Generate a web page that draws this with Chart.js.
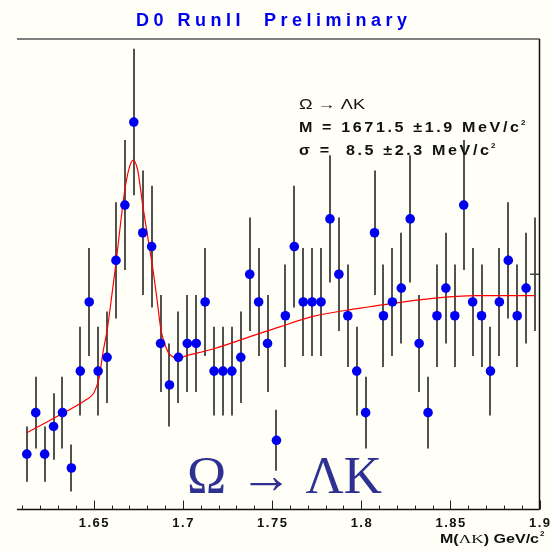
<!DOCTYPE html>
<html><head><meta charset="utf-8">
<script src="https://cdn.jsdelivr.net/npm/chart.js@4/dist/chart.umd.min.js"></script>
<style>html,body{margin:0;padding:0;background:#fffef7;}#wrap{width:551px;height:551px;}</style>
</head><body><div id="wrap"><canvas id="c" width="551" height="551"></canvas></div>
<script>
// ---- data ----
const binCenters = [1.6125,1.6175,1.6225,1.6275,1.6325,1.6375,1.6425,1.6475,1.6525,1.6575,
  1.6625,1.6675,1.6725,1.6775,1.6825,1.6875,1.6925,1.6975,1.7025,1.7075,
  1.7125,1.7175,1.7225,1.7275,1.7325,1.7375,1.7425,1.7475,1.7525,1.7575,
  1.7625,1.7675,1.7725,1.7775,1.7825,1.7875,1.7925,1.7975,1.8025,1.8075,
  1.8125,1.8175,1.8225,1.8275,1.8325,1.8375,1.8425,1.8475,1.8525,1.8575,
  1.8625,1.8675,1.8725,1.8775,1.8825,1.8875,1.8925,1.8975];
const counts = [4,7,4,6,7,3,10,15,10,11,
  18,22,28,20,19,12,9,11,12,12,
  15,10,10,10,11,17,15,12,5,14,
  19,15,15,15,21,17,14,10,7,20,
  14,15,16,21,12,7,14,16,14,22,
  15,14,10,15,18,14,16,17];
const errors = [2.0,2.6,2.0,2.4,2.6,1.7,3.2,3.9,3.2,3.3,
  4.2,4.7,5.3,4.5,4.4,3.5,3.0,3.3,3.5,3.5,
  3.9,3.2,3.2,3.2,3.3,4.1,3.9,3.5,2.2,3.7,
  4.4,3.9,3.9,3.9,4.6,4.1,3.7,3.2,2.6,4.5,
  3.7,3.9,4.0,4.6,3.5,2.6,3.7,4.0,3.7,4.7,
  3.9,3.7,3.2,3.9,4.2,3.7,4.0,4.1];
const fitX = [1.6125,1.6227,1.6327,1.6461,1.6500,1.6519,1.6528,1.6554,1.6576,1.6601,
  1.6627,1.6651,1.6677,1.6702,1.6722,1.6747,1.6776,1.6803,1.6827,1.6853,
  1.6877,1.6903,1.6927,1.6978,1.7028,1.7095,1.7170,1.7357,1.7543,1.7730,
  1.7917,1.8047,1.8178,1.8365,1.8533,1.8645,1.8971];
const fitY = [5.55,6.25,6.95,7.96,8.40,9.00,9.36,11.5,13.0,15.4,
  18.0,20.7,23.3,24.8,25.25,24.5,21.9,19.7,17.8,15.4,
  13.0,11.8,11.2,10.95,11.15,11.35,11.6,12.4,13.2,13.95,
  14.4,14.65,14.9,15.2,15.4,15.46,15.46];
const majorTicks = [1.65,1.70,1.75,1.80,1.85,1.90];
const majorLabels = ["1.65","1.7","1.75","1.8","1.85","1.9"];
const allTicks = [1.61,1.62,1.63,1.64,1.65,1.66,1.67,1.68,1.69,1.70,1.71,1.72,1.73,1.74,1.75,
  1.76,1.77,1.78,1.79,1.80,1.81,1.82,1.83,1.84,1.85,1.86,1.87,1.88,1.89,1.90];
const titleText = "D0 RunII  Preliminary";
const annotLine1 = "\u03A9 \u2192 \u039BK";
const annotLine2 = "M = 1671.5 \u00B11.9 MeV/c";
const annotLine3 = "\u03C3 =  8.5 \u00B12.3 MeV/c";
const bigLabel = "\u03A9 \u2192 \u039BK";

const BG = '#fffef7';
const SANS = '"Liberation Sans", Arial, sans-serif';
const SERIF = '"Liberation Serif", "Times New Roman", serif';

function fitRuns(ctx, runs, x, y, w, color) {
  let total = 0;
  runs.forEach(r => { ctx.font = r.font; r.w = ctx.measureText(r.t).width; total += r.w; });
  const s = w / total;
  ctx.save(); ctx.fillStyle = color; ctx.textAlign = 'left'; ctx.textBaseline = 'alphabetic';
  ctx.translate(x, y); ctx.scale(s, 1);
  let cx = 0;
  runs.forEach(r => { ctx.font = r.font; ctx.fillText(r.t, cx, r.dy || 0); cx += r.w; });
  ctx.restore();
}
// draw text char by char with extra spacing; optional horizontal glyph scale hs. returns {end, sp}
function spaced(ctx, text, font, x, y, opts) {
  ctx.save(); ctx.font = font; ctx.fillStyle = opts.color; ctx.textAlign = 'left'; ctx.textBaseline = 'alphabetic';
  const hs = opts.hs || 1;
  const chars = [...text];
  const ws = chars.map(ch => ctx.measureText(ch).width * hs);
  const nat = ws.reduce((a, b) => a + b, 0);
  let sp = opts.sp || 0;
  if (opts.width) sp = (opts.width - nat) / Math.max(1, chars.length - 1);
  const total = nat + sp * (chars.length - 1);
  let cx = opts.align === 'center' ? x - total / 2 : (opts.align === 'right' ? x - total : x);
  chars.forEach((ch, i) => {
    ctx.save(); ctx.translate(cx, y); ctx.scale(hs, 1); ctx.fillText(ch, 0, 0); ctx.restore();
    cx += ws[i] + (i < chars.length - 1 ? sp : 0);
  });
  ctx.restore();
  return { end: cx, sp: sp };
}

const deco = {
  id: 'deco',
  beforeDraw(chart) {
    const ctx = chart.ctx;
    ctx.save(); ctx.fillStyle = BG; ctx.fillRect(0, 0, chart.width, chart.height); ctx.restore();
  },
  beforeDatasetsDraw(chart) {
    const ctx = chart.ctx, xs = chart.scales.x, ys = chart.scales.y;
    ctx.save();
    ctx.strokeStyle = '#333'; ctx.lineWidth = 1.7;
    for (let i = 0; i < binCenters.length; i++) {
      const px = Math.round(xs.getPixelForValue(binCenters[i]));
      const y1 = ys.getPixelForValue(counts[i] - errors[i]);
      const y2 = ys.getPixelForValue(counts[i] + errors[i]);
      ctx.beginPath(); ctx.moveTo(px, y1); ctx.lineTo(px, y2); ctx.stroke();
    }
    ctx.restore();
  },
  afterDraw(chart) {
    const ctx = chart.ctx, xs = chart.scales.x, a = chart.chartArea;
    ctx.save();
    // frame
    ctx.strokeStyle = '#555'; ctx.lineWidth = 1.6;
    ctx.beginPath(); ctx.moveTo(a.left, a.top); ctx.lineTo(a.right, a.top); ctx.stroke();
    ctx.strokeStyle = '#111'; ctx.lineWidth = 1.5;
    ctx.beginPath(); ctx.moveTo(a.right, a.top); ctx.lineTo(a.right, a.bottom); ctx.stroke();
    ctx.beginPath(); ctx.moveTo(a.left, a.bottom); ctx.lineTo(a.right, a.bottom); ctx.stroke();
    // ticks (inside)
    ctx.strokeStyle = '#222'; ctx.lineWidth = 1;
    allTicks.forEach(v => {
      const major = majorTicks.some(m => Math.abs(m - v) < 1e-6);
      const px = Math.round(xs.getPixelForValue(v)) + 0.5;
      ctx.beginPath(); ctx.moveTo(px, a.bottom); ctx.lineTo(px, a.bottom - (major ? 9 : 4)); ctx.stroke();
    });
    // tick labels
    majorTicks.forEach((v, i) => {
      spaced(ctx, majorLabels[i], 'bold 13px ' + SANS, xs.getPixelForValue(v), 527, { sp: 1.5, align: 'center', color: '#111' });
    });
    // axis title
    fitRuns(ctx, [
      { t: 'M(', font: 'bold 12px ' + SANS },
      { t: '\u039BK', font: '13px ' + SERIF },
      { t: ') GeV/c', font: 'bold 12px ' + SANS }
    ], 440, 543, 99, '#111');
    ctx.fillStyle = '#111'; ctx.font = 'bold 8px ' + SANS; ctx.fillText('2', 540, 536);
    // title
    spaced(ctx, titleText, 'bold 18px ' + SANS, 136, 26, { width: 271, color: '#0000f0' });
    // annotation
    fitRuns(ctx, [{ t: annotLine1, font: '14px ' + SANS }], 299, 109, 66, '#111');
    const r2 = spaced(ctx, annotLine2, 'bold 14px ' + SANS, 299, 132, { width: 220, hs: 1.15, color: '#111' });
    const r3 = spaced(ctx, annotLine3, 'bold 14px ' + SANS, 299, 155, { sp: r2.sp, hs: 1.15, color: '#111' });
    ctx.fillStyle = '#111'; ctx.font = 'bold 8px ' + SANS;
    ctx.fillText('2', r2.end + 2, 125); ctx.fillText('2', r3.end + 2, 148);
    // big label
    fitRuns(ctx, [{ t: bigLabel, font: '52px ' + SERIF }], 187, 493, 195, '#2e3192');
    ctx.restore();
  }
};

const n = binCenters.length;
const ptRadius = counts.map((c, i) => i === n - 1 ? 5 : 4.8);
const ptStyle = counts.map((c, i) => i === n - 1 ? 'line' : 'circle');
const ptBorder = counts.map((c, i) => i === n - 1 ? '#444' : '#0000f0');
const ptBorderW = counts.map((c, i) => i === n - 1 ? 1.5 : 0);

new Chart(document.getElementById('c'), {
  type: 'scatter',
  data: {
    datasets: [
      {
        label: 'data',
        data: binCenters.map((x, i) => ({ x: x, y: counts[i] })),
        backgroundColor: '#0000f0',
        pointRadius: ptRadius,
        pointStyle: ptStyle,
        pointBorderColor: ptBorder,
        pointBorderWidth: ptBorderW,
        order: 0
      },
      {
        label: 'fit',
        type: 'line',
        data: fitX.map((x, i) => ({ x: x, y: fitY[i] })),
        borderColor: '#ff0000',
        borderWidth: 1.2,
        pointRadius: 0,
        fill: false,
        cubicInterpolationMode: 'monotone',
        order: 1
      }
    ]
  },
  options: {
    responsive: false,
    animation: false,
    events: [],
    layout: { padding: { left: 17, right: 11.5, top: 39, bottom: 41.5 } },
    scales: {
      x: { type: 'linear', min: 1.607, max: 1.9, display: false },
      y: { type: 'linear', min: 0, max: 34, display: false }
    },
    plugins: { legend: { display: false }, tooltip: { enabled: false }, title: { display: false } }
  },
  plugins: [deco]
});
</script>
</body></html>
